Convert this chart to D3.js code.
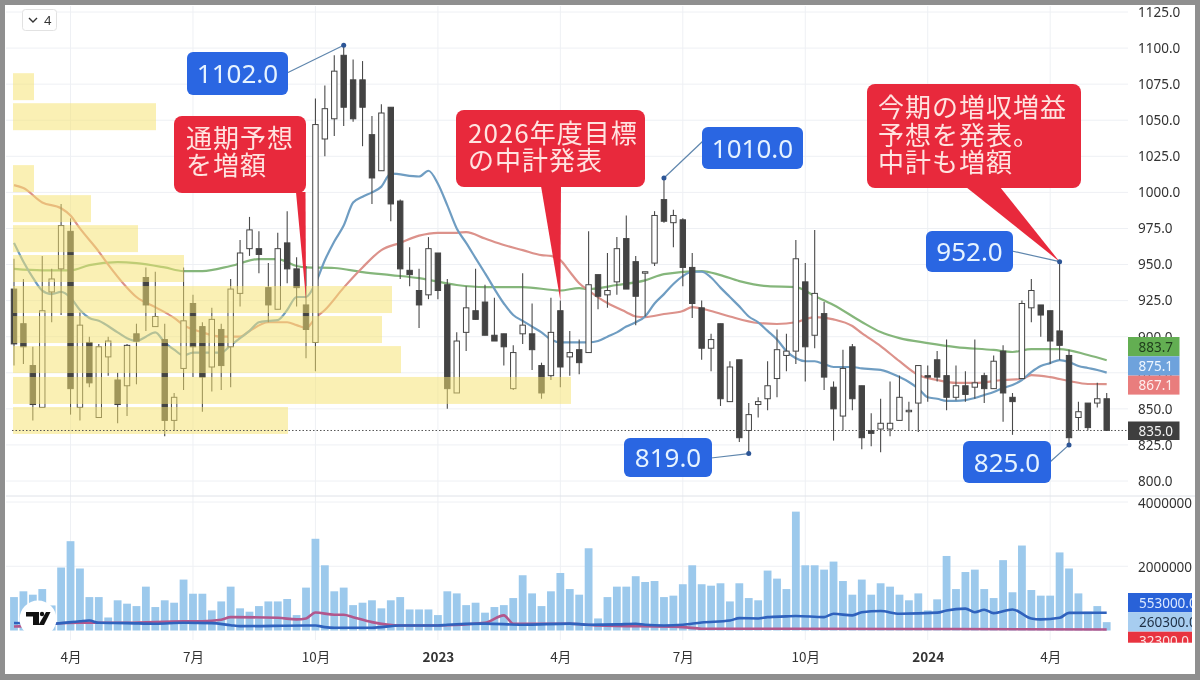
<!DOCTYPE html>
<html>
<head>
<meta charset="utf-8">
<script src="https://d3js.org/d3.v7.min.js"></script>
<style>
html,body{margin:0;padding:0;background:#fff;}
svg{display:block;}
text{font-family:"Noto Sans","Noto Sans CJK JP",sans-serif;}
.cjk{font-family:"Noto Sans CJK JP",sans-serif;}
</style>
</head>
<body>
<div id="chart"></div>
<script>
// weekly candles
const opens = [933,909,880,851,931,947,973,851,896,844,
886,870,866,902,941,907,898,842,878,923,
907,879,905,893,930,961,961,934,919,965,
947,922,896,1037,1051,1095,1078,1078,1040,1015,
1059,994,946,932,929,958,936,861,903,918,
924,901,902,864,902,902,880,873,918,886,
891,889,943,929,938,968,952,944,951,995,
979,981,948,920,892,909,855,884,835,853,
857,871,887,890,938,901,916,865,845,893,
866,835,836,836,842,848,854,873,884,873,
858,866,865,873,864,890,858,871,920,922,
918,904,887,844,854,854,857];
const closes = [895,893,853,918,940,977,864,908,868,893,
897,853,894,897,922,914,842,858,911,893,
872,912,880,933,958,974,957,922,961,947,
934,905,1047,1058,1084,1059,1051,1059,1010,1055,
992,947,943,922,961,932,864,897,920,912,
901,897,893,889,908,891,861,903,879,889,
882,936,928,932,961,933,928,945,984,980,
984,948,923,892,898,857,879,830,846,855,
866,891,890,954,893,930,872,850,878,857,
830,833,840,840,858,849,880,872,872,858,
866,860,868,864,883,861,855,923,932,915,
897,894,830,848,837,857,835];
const highs = [954,940,893,956,947,992,982,917,900,895,
900,875,895,909,948,945,909,861,948,929,
910,920,909,940,967,983,973,951,972,987,
955,949,1065,1074,1095,1102,1092,1091,1053,1061,
1059,995,962,947,969,958,940,903,935,947,
936,927,902,894,944,923,882,927,925,904,
898,973,943,958,969,984,956,945,987,1010,
988,982,958,925,902,909,883,884,854,858,
883,905,902,967,951,974,924,869,891,895,
866,847,857,869,873,855,880,880,890,898,
880,876,898,875,887,894,861,925,940,922,
918,952,891,855,854,868,861];
const lows = [880,881,842,851,910,915,846,842,865,844,
873,840,845,867,904,907,831,835,863,872,
848,862,863,865,921,956,944,910,919,937,
921,885,876,1025,1039,1046,1049,1032,992,1015,
980,940,935,906,926,926,850,861,890,912,
901,897,880,863,895,877,857,870,865,873,
874,889,919,920,929,933,908,914,949,979,
962,935,913,884,876,852,855,827,819,844,
849,858,876,881,869,892,863,828,835,849,
822,824,820,831,842,835,834,855,869,849,
856,855,857,854,864,841,832,871,910,900,
881,884,825,835,835,851,835];

// volume in thousand shares
const volumesK = [1040,1220,1115,1290,780,1960,2780,1930,1040,1040,
405,940,835,760,1365,730,940,865,1585,1145,
1145,625,905,1365,690,585,760,905,905,980,
480,1335,2855,2030,1220,1335,790,865,940,690,
940,1040,655,655,655,480,1220,1155,790,865,
555,730,790,1010,1720,1155,760,1220,1790,1290,
1115,2560,375,1040,1365,1365,1690,1510,1540,1040,
1085,1440,2030,1440,1395,1470,905,1470,1010,940,
1865,1615,1290,3700,2030,2030,1895,2145,1540,1115,
1585,1115,1470,1365,1115,940,1155,625,970,2320,
1290,1820,1895,1290,1010,2190,1190,2645,1260,1085,
1085,2430,1930,1155,585,760,260];

// moving averages: [candle index, value]
const maBlue = [[0,965],[1,952],[2,941],[3,932],[4,929.5],[5,931],[6,927],[7,918.5],[8,913],[9,911],[11,903],[12,899],[13,897],[14,900],[15,903],[16,896],[17,891],[18,887],[19,889],[21,889],[22,889],[23,894],[24,899],[25,904],[26,910],[27,911],[28,911.5],[29,918.5],[30,927.5],[31,927.5],[32,937],[33,953],[34,966],[35,977],[36,993],[37,997],[38,1000],[39,1004],[40,1013],[43,1011],[44,1015],[45,1006],[46,991],[47,975],[48,965],[49,954.5],[50,944],[52,923],[53,915],[54,911],[55,907],[56,903],[57,898],[58,896],[61,896],[62,897],[63,900],[64,903],[65,907],[66,910],[67,914],[68,923],[69,929.5],[70,936.5],[71,942],[72,945],[73,945],[74,941],[75,934],[76,927.5],[77,921],[78,914],[79,910],[80,904],[81,898],[82,890],[83,885],[84,883],[85,883],[86,881],[87,879],[89,879],[90,878],[91,877.5],[92,877],[94,872],[95,868.6],[96,864],[97,858],[98,857],[99,855.5],[100,855.5],[101,856],[102,857.5],[103,859.6],[104,861.7],[105,864.4],[106,866.5],[107,870],[108,875.5],[109,879.7],[110,881.7],[111,883.8],[112,882.4],[113,879.7],[114,878.3],[115,876.9],[116,875.1]];
const maRed = [[0,1005],[1,1003],[3,993],[5,989],[6,984],[7,975],[9,959],[10,950],[12,934],[13,927.5],[15,920.5],[17,913],[18,908],[20,903],[22,900],[24,900],[25,904],[27,910],[29,910],[30,908],[31,906],[32,913],[33,918.5],[35,934],[37,948],[39,960],[41,965],[43,970],[45,972],[47,972],[48,972.5],[50,968],[52,963.5],[54,960],[56,956.5],[57,956],[58,953],[59,945],[60,937],[61,932],[63,923.3],[65,917],[66,914],[67,913.6],[69,915.7],[71,917.8],[72,920.5],[74,917.8],[76,914],[79,909.5],[81,908.8],[83,910],[85,913.6],[87,912],[89,907.4],[90,902.5],[92,893.5],[94,883],[96,873.4],[98,870],[100,868],[102,868],[105,870],[107,870.7],[108,873.4],[110,872],[112,869.3],[114,867.2],[116,867.1]];
const maGreen = [[0,947],[3,946],[6,946],[8,949.6],[11,951.7],[13,951],[16,948],[18,945.5],[20,945.5],[23,949],[26,953.8],[28,953.8],[30,949],[31,948],[34,947.6],[37,944.8],[40,942.7],[43,940.6],[47,935.8],[50,934.4],[54,934.4],[58,932],[60,933.7],[61,933],[64,935.8],[67,939],[69,943.4],[73,945.5],[75,942.7],[77,938.5],[80,935],[83,934.4],[85,928.2],[87,922],[90,910.2],[92,903.2],[94,899],[97,895.6],[100,892.8],[104,890.8],[106,889.4],[108,891.4],[111,891.4],[114,887.3],[116,883.7]];
const volMaBlue = [[0,235],[4,210],[7,290],[8,310],[9,240],[12,230],[15,210],[18,240],[21,230],[23,165],[24,135],[31,155],[32,155],[33,105],[34,85],[38,85],[41,155],[45,155],[46,180],[50,215],[54,180],[59,215],[61,180],[64,190],[66,210],[67,180],[69,155],[71,180],[73,250],[76,310],[77,385],[79,375],[80,415],[82,440],[83,453],[86,416],[87,520],[89,470],[90,570],[92,605],[94,520],[98,555],[99,625],[101,680],[102,570],[103,645],[104,540],[106,655],[108,375],[109,345],[111,395],[112,550],[116,553]];
const volMaRed = [[0,125],[1,135],[4,210],[7,240],[9,240],[12,240],[18,290],[20,290],[22,335],[23,415],[28,395],[30,345],[31,375],[32,560],[34,490],[35,490],[36,415],[38,260],[41,155],[45,155],[50,240],[52,470],[53,210],[59,210],[62,155],[71,105],[73,55],[83,55],[100,45],[116,32.3]];

// volume profile: lower edge of each bin (price) and its volume (thousand shares)
const profileLows = [832.6,853.4,874.8,895.6,916.4,937.9,958.6,979.4,1000.2,1043.1,1063.9];
const profileVols = [275,558,388,369,379,171,125,78,21,143,21];
const profileBinHeight = 18.7;

const priceTicks = [800,825,850,875,900,925,950,975,1000,1025,1050,1075,1100,1125];
const volumeTicks = [2000000,4000000];
const timeTicks = [6,19,32,45,58,71,84,97,110];
const timeLabels = ["4月","7月","10月","2023","4月","7月","10月","2024","4月"];
const lastPrice = 835;

const W = 1200, H = 680;
const svg = d3.select("#chart").append("svg")
  .attr("width", W).attr("height", H)
  .style("filter", "blur(0.35px)");

const x = d3.scaleLinear().domain([0, 116]).range([14, 1106.7]);
const y = d3.scaleLinear().domain([800, 1125]).range([481, 12]);
const yVol = d3.scaleLinear().domain([0, 4000000]).range([630.5, 502]);
const xProfile = d3.scaleLinear().domain([0, 558]).range([13, 571]);

svg.append("rect").attr("width", W).attr("height", H).attr("fill", "#fff");

// grid
const grid = svg.append("g").attr("stroke", "#eef0f4").attr("stroke-width", 1);
grid.selectAll(".gh").data(priceTicks).enter().append("line")
  .attr("x1", 6).attr("x2", 1128)
  .attr("y1", d => y(d)).attr("y2", d => y(d));
grid.selectAll(".gv").data(volumeTicks).enter().append("line")
  .attr("x1", 6).attr("x2", 1128)
  .attr("y1", d => yVol(d)).attr("y2", d => yVol(d));
grid.selectAll(".gt").data(timeTicks).enter().append("line")
  .attr("x1", d => x(d)).attr("x2", d => x(d))
  .attr("y1", 6).attr("y2", 640);
svg.append("line").attr("x1", 6).attr("x2", 1195).attr("y1", 496).attr("y2", 496)
  .attr("stroke", "#dfe2e8").attr("stroke-width", 1);

// volume bars
svg.append("g").selectAll("rect").data(volumesK).enter().append("rect")
  .attr("x", (d, i) => x(i) - 3.9)
  .attr("width", 7.8)
  .attr("y", d => yVol(d * 1000))
  .attr("height", d => yVol(0) - yVol(d * 1000))
  .attr("fill", "#9cc9ec");

const maLine = (sx, sy) => d3.line().x(d => sx(d[0])).y(d => sy(d[1])).curve(d3.curveMonotoneX);

const volMaLine = maLine(x, d => yVol(d * 1000));
svg.append("path").attr("d", volMaLine(volMaRed)).attr("fill", "none")
  .attr("stroke", "#b2578c").attr("stroke-width", 2.6);
svg.append("path").attr("d", volMaLine(volMaBlue)).attr("fill", "none")
  .attr("stroke", "#2f62bd").attr("stroke-width", 2.6);

// moving averages on price
const priceMa = maLine(x, y);
[[maGreen, "#85b67b"], [maRed, "#dc928b"], [maBlue, "#6f9dc2"]].forEach(function (m) {
  svg.append("path").attr("d", priceMa(m[0])).attr("fill", "none")
    .attr("stroke", m[1]).attr("stroke-width", 2.2);
});

// candles
const candles = svg.append("g").selectAll("g").data(d3.range(opens.length)).enter().append("g");
candles.append("line")
  .attr("x1", i => x(i)).attr("x2", i => x(i))
  .attr("y1", i => y(highs[i])).attr("y2", i => y(lows[i]))
  .attr("stroke", "#4a4a4a").attr("stroke-width", 1.1);
candles.append("rect")
  .attr("x", i => x(i) - 2.7)
  .attr("width", 5.4)
  .attr("y", i => y(Math.max(opens[i], closes[i])))
  .attr("height", i => Math.max(1, Math.abs(y(opens[i]) - y(closes[i]))))
  .attr("fill", i => closes[i] >= opens[i] ? "#fff" : "#434343")
  .attr("stroke", "#444").attr("stroke-width", 1);

// volume profile sits over the candles
svg.append("g").selectAll("rect").data(profileLows).enter().append("rect")
  .attr("x", xProfile(0))
  .attr("width", (d, i) => xProfile(profileVols[i]) - xProfile(0))
  .attr("y", d => y(d + profileBinHeight))
  .attr("height", d => y(d) - y(d + profileBinHeight))
  .attr("fill", "#f5e26f").attr("fill-opacity", 0.52);

// last price line
svg.append("line").attr("x1", 12).attr("x2", 1128)
  .attr("y1", y(lastPrice)).attr("y2", y(lastPrice))
  .attr("stroke", "#555").attr("stroke-width", 1).attr("stroke-dasharray", "1.5 2");

// axes
const axisClip = svg.append("defs").append("clipPath").attr("id", "axisClip");
axisClip.append("rect").attr("x", 1128).attr("y", 0).attr("width", 64).attr("height", H);

function styleAxis(g) {
  g.select(".domain").remove();
  g.selectAll(".tick line").remove();
  g.selectAll("text").attr("fill", "#333").style("font-size", "13.5px");
}
svg.append("g").attr("transform", "translate(1138,0)").attr("clip-path", null)
  .call(d3.axisRight(y).tickValues(priceTicks).tickFormat(d3.format(".1f")).tickSize(0).tickPadding(0))
  .call(styleAxis);
svg.append("g").attr("clip-path", "url(#axisClip)").append("g")
  .attr("transform", "translate(1138,1)")
  .call(d3.axisRight(yVol).tickValues(volumeTicks).tickFormat(d3.format(".1f")).tickSize(0).tickPadding(0))
  .call(styleAxis);
const xAxis = svg.append("g").attr("transform", "translate(0,652)")
  .call(d3.axisBottom(x).tickValues(timeTicks).tickFormat((d, i) => timeLabels[i]).tickSize(0).tickPadding(0))
  .call(styleAxis);
xAxis.selectAll("text").classed("cjk", true)
  .style("font-weight", (d, i) => timeLabels[i].length === 4 ? 700 : 400);

// price tags on the axis
function tag(y0, h, fill, color, label, clip) {
  const g = svg.append("g");
  g.append("rect").attr("x", 1128).attr("y", y0).attr("width", clip ? 67 : 51.5).attr("height", h).attr("fill", fill);
  g.append("text").attr("x", clip ? 1139 : 1138.5).attr("y", y0 + 14.5)
    .attr("fill", color).style("font-size", "13.5px").text(label);
}
tag(337, 19.3, "#63ae52", "#1f3d1c", d3.format(".1f")(maGreen[maGreen.length - 1][1]));
tag(356.3, 19.3, "#6ea2dc", "#eef6ff", d3.format(".1f")(maBlue[maBlue.length - 1][1]));
tag(375.6, 19, "#e97d7d", "#fdeeee", d3.format(".1f")(maRed[maRed.length - 1][1]));
tag(421.5, 18.5, "#3f3f3f", "#f2f2f2", d3.format(".1f")(lastPrice));

const volEnd = volMaBlue[volMaBlue.length - 1][1] * 1000;
const volTags = svg.append("g").attr("clip-path", "url(#axisClip2)");
svg.select("defs").append("clipPath").attr("id", "axisClip2")
  .append("rect").attr("x", 1128).attr("y", 593).attr("width", 64).attr("height", 50);
function volTag(y0, h, fill, color, label) {
  volTags.append("rect").attr("x", 1128).attr("y", y0).attr("width", 67).attr("height", h).attr("fill", fill);
  volTags.append("text").attr("x", 1139).attr("y", y0 + 14.5)
    .attr("fill", color).style("font-size", "13.5px").text(label);
}
volTag(593, 19.3, "#2962d8", "#dce9ff", d3.format(".1f")(volEnd));
volTag(612.3, 19.3, "#a7cdf0", "#1f2f45", d3.format(".1f")(volumesK[116] * 1000 + 300));
volTag(631.7, 11, "#e8333f", "#fbe3e3", d3.format(".1f")(volMaRed[volMaRed.length - 1][1] * 1000));

// red callouts
const red = "#e8293c";
function callout(bx, by, bw, bh, tail, lines, lx, ly, lh) {
  const g = svg.append("g");
  g.append("path").attr("d", d3.line()(tail)).attr("fill", red);
  g.append("rect").attr("x", bx).attr("y", by).attr("width", bw).attr("height", bh).attr("rx", 8).attr("fill", red);
  lines.forEach(function (t, k) {
    g.append("text").attr("class", "cjk").attr("x", lx).attr("y", ly + k * lh)
      .attr("fill", "#ffe3e0").style("font-size", "26px").style("letter-spacing", "1px").text(t);
  });
}
callout(174, 116, 132, 77, [[296, 192], [305.5, 192], [x(31), y(926)]], ["通期予想", "を増額"], 186, 148, 27);
callout(456, 110, 189, 77, [[541, 186], [561, 186], [x(58), y(925)]], ["2026年度目標", "の中計発表"], 468, 143, 27);
callout(867, 84, 214, 104, [[966, 187], [1000, 187], [x(111), y(highs[111])]], ["今期の増収増益", "予想を発表。", "中計も増額"], 878, 117, 27.5);

// blue high / low labels, each tied to its candle
const pointFill = "#2c5596";
function priceLabel(i, value, bx, by, bw, bh, ax, ay) {
  const g = svg.append("g");
  g.append("line").attr("x1", ax).attr("y1", ay).attr("x2", x(i)).attr("y2", y(value))
    .attr("stroke", "#5f86ad").attr("stroke-width", 1.2);
  g.append("circle").attr("cx", x(i)).attr("cy", y(value)).attr("r", 2.5).attr("fill", pointFill);
  g.append("rect").attr("x", bx).attr("y", by).attr("width", bw).attr("height", bh).attr("rx", 6).attr("fill", "#2a66e2");
  g.append("text").attr("x", bx + bw / 2).attr("y", by + bh / 2 + 9.5).attr("text-anchor", "middle")
    .attr("fill", "#e6f3ff").style("font-size", "26px").text(d3.format(".1f")(value));
}
priceLabel(35, highs[35], 187, 52, 101, 43, 287, 73);
priceLabel(69, highs[69], 702, 127, 101, 42, 703, 141);
priceLabel(78, lows[78], 624, 438, 88, 39, 711, 458);
priceLabel(111, highs[111], 926, 231, 87, 41, 1012, 251);
priceLabel(112, lows[112], 963, 441, 88, 42, 1050, 462);

// scale button
const btn = svg.append("g");
btn.append("rect").attr("x", 22.5).attr("y", 9.5).attr("width", 34).attr("height", 21).attr("rx", 3)
  .attr("fill", "#fff").attr("stroke", "#e2e2e2");
btn.append("path").attr("d", "M29 18 L33 22 L37 18").attr("fill", "none").attr("stroke", "#333").attr("stroke-width", 1.4);
btn.append("text").attr("x", 44).attr("y", 25).attr("fill", "#333").style("font-size", "13px").text("4");

// logo badge
const logo = svg.append("g");
logo.append("circle").attr("cx", 38).attr("cy", 619).attr("r", 18.5).attr("fill", "#fff");
logo.append("path").attr("d", "M26 612 H39 V625 H33 V616.5 H26 Z").attr("fill", "#111");
logo.append("circle").attr("cx", 42).attr("cy", 614).attr("r", 2.2).attr("fill", "#111");
logo.append("path").attr("d", "M46 612 H50.5 L44 625 H38.5 Z").attr("fill", "#111");

// outer frame
svg.append("path")
  .attr("fill", "#8f8f8f").attr("fill-rule", "evenodd")
  .attr("d", `M0 0 H${W} V${H} H0 Z M5 5 V674 H1195 V5 Z`);
</script>
</body>
</html>
